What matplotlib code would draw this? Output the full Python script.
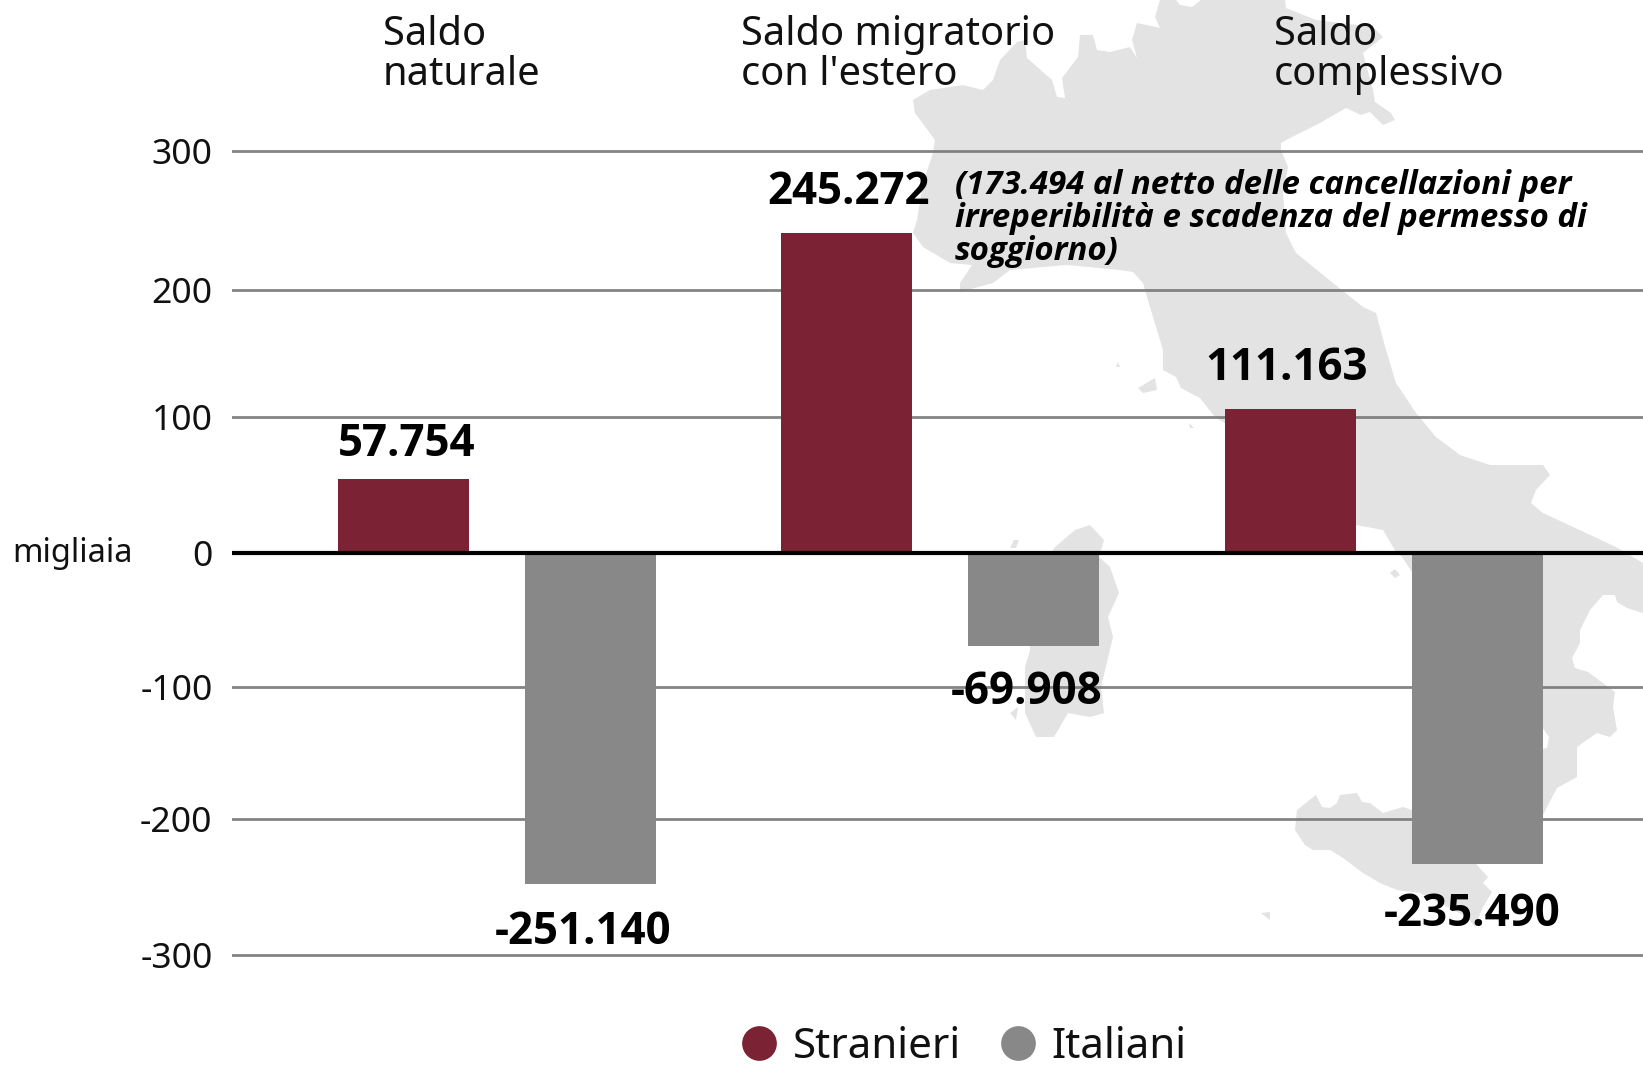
import numpy as np
import matplotlib
matplotlib.use('Agg')
import matplotlib.pyplot as plt
from matplotlib.lines import Line2D
from matplotlib.patches import Polygon

plt.rcParams['font.family'] = ['Noto Sans', 'DejaVu Sans']

#=============================
# Data
#=============================
groups = ['Saldo\nnaturale', "Saldo migratorio\ncon l'estero", 'Saldo\ncomplessivo']
stranieri = [55.4, 238.6, 107.2]
italiani = [-247.0, -69.4, -232.1]
stranieri_labels = ['57.754', '245.272', '111.163']
italiani_labels = ['-251.140', '-69.908', '-235.490']
# gridlines, the original axis is not quite regular
grid_levels = [300, 196.3, 101.7, 0, -100, -198.7, -300]
grid_labels = ['300', '200', '100', '0', '-100', '-200', '-300']
note = "(173.494 al netto delle cancellazioni per\nirreperibilità e scadenza del permesso di\nsoggiorno)"

#=============================
# Background map outline, in pixels of the picture
#=============================
italy = [(1160,0),(1155,17),(1160,28),(1137,23),(1132,40),(1137,58),(1130,47),(1110,52),(1097,50),
         (1093,35),(1080,35),(1078,57),(1062,78),(1065,98),(1057,97),(1052,80),(1027,58),(1025,40),
         (1017,42),(1000,60),(993,80),(983,90),(963,85),(930,90),(913,100),(915,113),(935,140),
         (933,153),(923,183),(917,220),(913,233),(923,247),(950,263),(972,265),(960,283),(960,292),
         (993,283),(1010,270),(1067,265),(1120,270),(1133,272),(1143,283),(1150,307),(1163,350),
         (1163,370),(1176,377),(1181,388),(1200,398),(1215,417),(1300,470),(1356,525),(1383,530),
         (1396,552),(1402,557),(1412,572),(1450,620),(1520,680),(1542,727),(1549,737),(1547,748),
         (1542,749),(1530,760),(1542,817),(1547,807),(1557,788),(1577,777),(1577,747),(1597,733),
         (1610,737),(1617,730),(1613,707),(1615,692),(1588,672),(1575,668),(1572,658),(1580,643),
         (1580,630),(1590,610),(1603,595),(1615,595),(1617,602),(1627,608),(1643,613),(1643,563),
         (1616,547),(1543,513),(1531,503),(1536,490),(1550,475),(1543,465),(1490,465),(1460,455),
         (1436,437),(1416,413),(1396,383),(1386,350),(1376,313),(1363,307),(1333,283),(1296,253),
         (1286,233),(1283,193),(1288,167),(1281,150),(1281,143),(1290,138),(1320,123),(1346,108),
         (1361,115),(1370,112),(1383,125),(1395,120),(1391,113),(1375,102),(1373,90),(1363,53),
         (1383,37),(1373,27),(1316,20),(1286,8),(1285,0),(1201,0),(1192,7),(1180,5),(1176,0)]
sardinia = [(1054,548),(1075,530),(1090,525),(1104,540),(1099,557),(1110,567),(1119,593),(1108,617),
            (1113,637),(1101,687),(1104,713),(1090,717),(1068,713),(1054,737),(1036,737),(1025,713),
            (1025,667),(1030,650),(1030,600)]
sicily = [(1297,810),(1316,795),(1322,807),(1330,808),(1337,803),(1340,795),(1357,793),(1362,802),
          (1370,803),(1383,813),(1403,807),(1412,810),(1460,810),(1477,865),(1488,877),(1483,883),
          (1492,892),(1483,907),(1475,927),(1467,917),(1420,893),(1397,890),(1380,883),(1363,873),
          (1343,858),(1330,850),(1313,850),(1305,845),(1295,830)]
islets = [[(1010,548),(1014,540),(1019,540),(1016,548)],
          [(1010,713),(1018,707),(1016,720)],
          [(1261,913),(1270,912),(1270,920)],
          [(1390,573),(1395,569),(1400,575),(1395,578)],
          [(1138,388),(1155,378),(1157,390),(1143,393)],
          [(1118,362),(1120,367),(1116,367)],
          [(1189,423),(1194,428),(1190,428)]]

c_str = '#7b2334'
c_ita = '#888888'
W, H = 1643, 1066

fig = plt.figure(figsize=(W/100, H/100), dpi=100, facecolor='white')

#=============================
# map layer
#=============================
bg = fig.add_axes([0, 0, 1, 1], zorder=0)
bg.set_xlim(0, W)
bg.set_ylim(H, 0)
bg.axis('off')
for shape in [italy, sardinia, sicily] + islets:
    bg.add_patch(Polygon(shape, closed=True, fc='#e3e3e3', ec='none'))

#=============================
# bars
#=============================
px_per_unit = 1.34
y0 = 553
ylim = 310
left, right = 232, 1643
ax = fig.add_axes([left/W, 1-(y0+ylim*px_per_unit)/H, (right-left)/W, 2*ylim*px_per_unit/H], zorder=1)
ax.patch.set_alpha(0)

x = np.arange(len(groups))
spacing = 443.3
ax.set_xlim((left-497)/spacing, (right-497)/spacing)
ax.set_ylim(-ylim, ylim)

off = 93.5/spacing
wid = 131/spacing
ax.bar(x-off, stranieri, wid, color=c_str, zorder=3)
ax.bar(x+off, italiani, wid, color=c_ita, zorder=3)

ax.set_yticks(grid_levels)
ax.set_yticklabels(grid_labels)
ax.set_xticks([])
ax.tick_params(axis='y', length=0, pad=14, labelsize=25.5, labelcolor='#111111')
for s in ax.spines.values():
    s.set_visible(False)
for lev in grid_levels:
    if lev != 0:
        ax.axhline(lev, color='#777777', lw=2.0, alpha=0.9, zorder=1)
ax.axhline(0, color='black', lw=3.0, zorder=4)

#=============================
# text, placed in picture pixels
#=============================
title_x = [383, 741, 1274]
for tx, g in zip(title_x, groups):
    fig.text(tx/W, 1-55/H, g, ha='left', va='center', fontsize=28.7, color='#111111', linespacing=1.03, zorder=5)

lab_pos_s = [(407, 444), (849, 192), (1287, 368)]
lab_pos_i = [(583, 932), (1027, 693), (1472, 915)]
for (lx, ly), t in zip(lab_pos_s + lab_pos_i, stranieri_labels + italiani_labels):
    fig.text(lx/W, 1-ly/H, t, ha='center', va='center', fontsize=31.6, fontweight='bold', family='Open Sans',
             color='black', zorder=5)

for i, line in enumerate(note.split('\n')):
    fig.text(955/W, 1-(185+33.5*i)/H, line, ha='left', va='center', fontsize=23.75, fontweight='bold',
             fontstyle='italic', family='Open Sans', color='black', zorder=5)

fig.text(12/W, 1-553/H, 'migliaia', ha='left', va='center', fontsize=23.5, color='#111111', zorder=5)

#=============================
# legend
#=============================
handles = [Line2D([], [], ls='none', marker='o', ms=25, mfc=c_str, mec='none', label='Stranieri'),
           Line2D([], [], ls='none', marker='o', ms=25, mfc=c_ita, mec='none', label='Italiani')]
fig.legend(handles=handles, ncol=2, frameon=False, fontsize=30.3, labelcolor='#111111',
           loc='center', bbox_to_anchor=(960/W, 1-1047/H), handletextpad=0.2, columnspacing=0.75,
           handlelength=1.2, borderpad=0)

plt.savefig('out.png', dpi=100)
